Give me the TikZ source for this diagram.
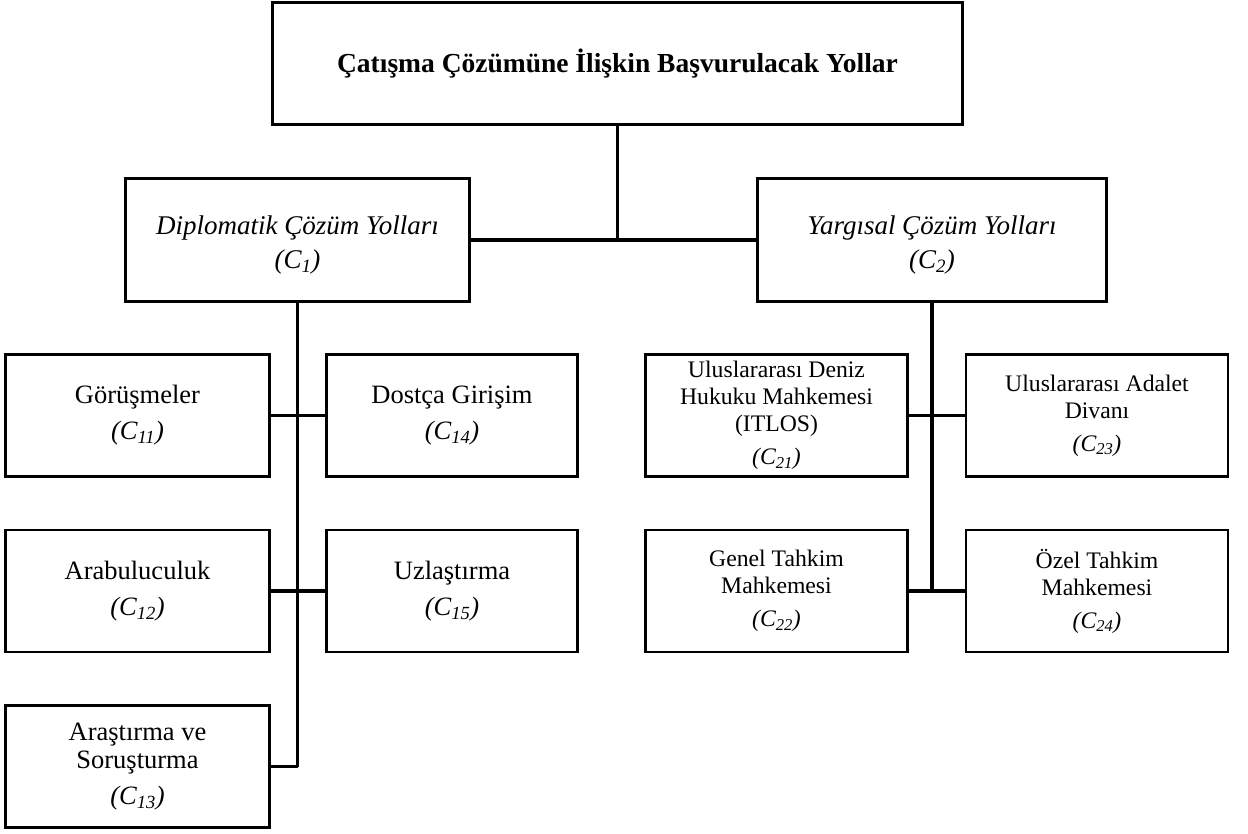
\documentclass[tikz,border=0pt]{standalone}
\usepackage{fontspec}
\setmainfont{Liberation Serif}
\begin{document}
\begin{tikzpicture}[x=1pt,y=-1pt,
  box/.style={draw, line width=2.7pt, inner sep=0pt, align=center, rectangle},
  lbox/.style={box, minimum width=264, minimum height=122, font=\fontsize{26.5}{28}\selectfont},
  mbox/.style={box, minimum width=251, minimum height=122, font=\fontsize{26.5}{28}\selectfont},
  rbox/.style={box, minimum width=262, minimum height=122, font=\fontsize{23.7}{27}\selectfont},
  ltext/.style={align=center, inner sep=0pt, font=\fontsize{27}{34}\selectfont\itshape},
  conn/.style={line width=3.2pt}]
\useasboundingbox (0,0) rectangle (1248,833);
% top
\node[box, minimum width=690, minimum height=122, font=\fontsize{27.5}{30}\selectfont\bfseries] (top) at (617.5,63.5)
  {Çatışma Çözümüne İlişkin Başvurulacak Yollar};
% level 1
\node[box, minimum width=344, minimum height=123] (c1) at (297.5,240) {};
\node[ltext] (c1t) at ([yshift=-5pt]c1.center) {Diplomatik Çözüm Yolları\\(C\textsubscript{1})};
\node[box, minimum width=349, minimum height=123] (c2) at (932,240) {};
\node[ltext] (c2t) at ([yshift=-5pt]c2.center) {Yargısal Çözüm Yolları\\(C\textsubscript{2})};
% diplomatic children
\node[lbox] (c11) at (137.5,415.5) {Görüşmeler\\[8pt]\textit{(C\textsubscript{11})}};
\node[lbox] (c12) at (137.5,591) {Arabuluculuk\\[8pt]\textit{(C\textsubscript{12})}};
\node[lbox] (c13) at (137.5,766.5) {Araştırma ve\\Soruşturma\\[8pt]\textit{(C\textsubscript{13})}};
\node[mbox] (c14) at (452,415.5) {Dostça Girişim\\[8pt]\textit{(C\textsubscript{14})}};
\node[mbox] (c15) at (452,591) {Uzlaştırma\\[8pt]\textit{(C\textsubscript{15})}};
% judicial children
\node[rbox] (c21) at (776.5,415.5) {Uluslararası Deniz\\Hukuku Mahkemesi\\(ITLOS)\\[6pt]\textit{(C\textsubscript{21})}};
\node[rbox] (c22) at (776.5,591) {Genel Tahkim\\Mahkemesi\\[6pt]\textit{(C\textsubscript{22})}};
\node[rbox] (c23) at (1097,415.5) {Uluslararası Adalet\\Divanı\\[6pt]\textit{(C\textsubscript{23})}};
\node[rbox] (c24) at (1097,591) {Özel Tahkim\\Mahkemesi\\[6pt]\textit{(C\textsubscript{24})}};
% connectors
\draw[conn] (top.south) -- (top.south |- c1.east);
\draw[conn] (c1.east) -- (c2.west);
\draw[conn] (c1.south) -- (c1.south |- c13.east);
\draw[conn] (c11.east) -- (c14.west);
\draw[conn] (c12.east) -- (c15.west);
\draw[conn] (c13.east) -- (c1.south |- c13.east);
\draw[conn] (c2.south) -- (c2.south |- c22.east);
\draw[conn] (c21.east) -- (c23.west);
\draw[conn] (c22.east) -- (c24.west);
\end{tikzpicture}
\end{document}
